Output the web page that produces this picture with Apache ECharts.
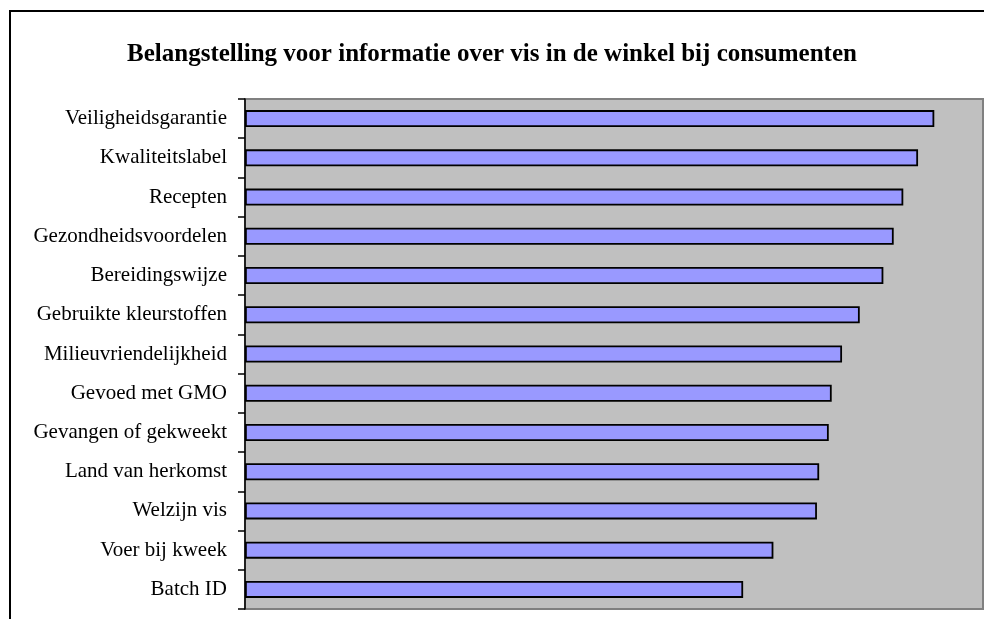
<!DOCTYPE html>
<html>
<head>
<meta charset="utf-8">
<script src="https://cdn.jsdelivr.net/npm/echarts@6/dist/echarts.min.js"></script>
<style>
  html, body { margin: 0; padding: 0; background: #ffffff; }
  #chart { width: 984px; height: 619px; }
</style>
</head>
<body>
<div id="chart"></div>
<script>
// Interest in in-store fish information among consumers (share, %)
const categories = [
  'Veiligheidsgarantie',
  'Kwaliteitslabel',
  'Recepten',
  'Gezondheidsvoordelen',
  'Bereidingswijze',
  'Gebruikte kleurstoffen',
  'Milieuvriendelijkheid',
  'Gevoed met GMO',
  'Gevangen of gekweekt',
  'Land van herkomst',
  'Welzijn vis',
  'Voer bij kweek',
  'Batch ID'
];
const values = [93.4, 91.2, 89.2, 87.9, 86.5, 83.3, 80.9, 79.5, 79.1, 77.8, 77.5, 71.6, 67.5];
const titleText = 'Belangstelling voor informatie over vis in de winkel bij consumenten';

const chart = echarts.init(document.getElementById('chart'), null, { renderer: 'canvas' });

chart.setOption({
  backgroundColor: '#ffffff',
  animation: false,
  title: {
    text: titleText,
    left: 'center',
    top: 37,
    textStyle: {
      fontFamily: '"Liberation Serif", "Times New Roman", serif',
      fontWeight: 'bold',
      fontSize: 25,
      color: '#000000'
    }
  },
  graphic: [{
    type: 'rect',
    shape: { x: 10, y: 11, width: 1000, height: 700 },
    style: { fill: 'none', stroke: '#000000', lineWidth: 2 },
    silent: true,
    z: -1
  }],
  grid: {
    left: 245,
    top: 99,
    right: 1,
    bottom: 10,
    show: true,
    backgroundColor: '#c0c0c0',
    borderColor: '#808080',
    borderWidth: 2
  },
  xAxis: {
    type: 'value',
    min: 0,
    max: 100,
    show: false,
    splitLine: { show: false }
  },
  yAxis: {
    type: 'category',
    data: categories,
    inverse: true,
    boundaryGap: true,
    axisLine: { show: true, lineStyle: { color: '#000000', width: 1.5 } },
    axisTick: { show: true, inside: false, length: 7, alignWithLabel: false, interval: 0,
      lineStyle: { color: '#000000', width: 1.5 } },
    axisLabel: {
      margin: 18,
      interval: 0,
      fontFamily: '"Liberation Serif", "Times New Roman", serif',
      fontSize: 21,
      color: '#000000'
    },
    splitLine: { show: false }
  },
  series: [{
    type: 'bar',
    data: values,
    barWidth: 17,
    itemStyle: {
      color: '#9999ff',
      borderColor: '#000000',
      borderWidth: 1.8
    }
  }]
});
</script>
</body>
</html>
